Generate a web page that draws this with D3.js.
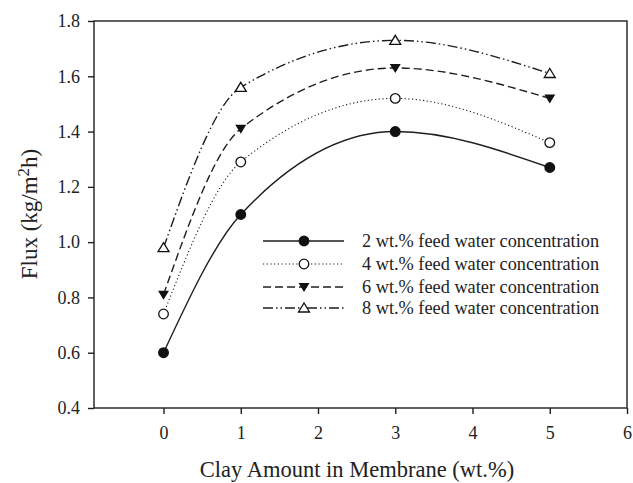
<!DOCTYPE html>
<html>
<head>
<meta charset="utf-8">
<script src="https://cdn.jsdelivr.net/npm/d3@7"></script>
<style>
  body { margin: 0; background: #fff; }
  text { font-family: "Liberation Serif", "Times New Roman", serif; fill: #222; }
</style>
</head>
<body>
<div id="chart"></div>
<script>
// clay amount (wt.%) on x
var clay = [0, 1, 3, 5];

// flux values, one array per feed water concentration
var flux2 = [0.60, 1.10, 1.40, 1.27];
var flux4 = [0.74, 1.29, 1.52, 1.36];
var flux6 = [0.81, 1.41, 1.63, 1.52];
var flux8 = [0.98, 1.56, 1.73, 1.61];

var seriesNames = [
  "2 wt.% feed water concentration",
  "4 wt.% feed water concentration",
  "6 wt.% feed water concentration",
  "8 wt.% feed water concentration"
];

var xTicks = [0, 1, 2, 3, 4, 5, 6];
var yTicks = [0.4, 0.6, 0.8, 1.0, 1.2, 1.4, 1.6, 1.8];

var svgWidth = 633;
var svgHeight = 483;
var margin = { top: 21, right: 6, bottom: 75, left: 94 };
var width = svgWidth - margin.left - margin.right;
var height = svgHeight - margin.top - margin.bottom;

var svg = d3.select("#chart")
  .append("svg")
  .attr("width", svgWidth)
  .attr("height", svgHeight);

var chartGroup = svg.append("g")
  .attr("transform", `translate(${margin.left}, ${margin.top})`);

var xScale = d3.scaleLinear().domain([-0.9, 6]).range([0, width]);
var yScale = d3.scaleLinear().domain([0.4, 1.8]).range([height, 0]);

var ink = "#1e1e1e";

// frame
chartGroup.append("rect")
  .attr("width", width)
  .attr("height", height)
  .attr("fill", "none")
  .attr("stroke", ink)
  .attr("stroke-width", 1.4);

// axes
var xAxis = d3.axisBottom(xScale).tickValues(xTicks).tickSize(6).tickPadding(12)
  .tickFormat(d3.format("d"));
var yAxis = d3.axisLeft(yScale).tickValues(yTicks).tickSize(6).tickPadding(8)
  .tickFormat(d3.format(".1f"));

var gx = chartGroup.append("g")
  .attr("transform", `translate(0, ${height})`)
  .call(xAxis);
var gy = chartGroup.append("g").call(yAxis);

[gx, gy].forEach(function (g) {
  g.select(".domain").remove();
  g.selectAll("line").attr("stroke", ink).attr("stroke-width", 1.4);
  g.selectAll("text")
    .style("font-family", "'Liberation Serif', serif")
    .style("font-size", "18px")
    .attr("fill", ink);
});

var series = [
  { name: seriesNames[0], values: flux2, dash: null, marker: "filledCircle" },
  { name: seriesNames[1], values: flux4, dash: "1.2,2.5", marker: "openCircle" },
  { name: seriesNames[2], values: flux6, dash: "8,4", marker: "filledTri" },
  { name: seriesNames[3], values: flux8, dash: "10,3,1.5,3,1.5,3", marker: "openTri" }
];

var line = d3.line()
  .x(d => xScale(d[0]))
  .y(d => yScale(d[1]))
  .curve(d3.curveMonotoneX);

function drawMarker(g, type, x, y) {
  if (type === "filledCircle" || type === "openCircle") {
    g.append("circle")
      .attr("cx", x).attr("cy", y).attr("r", 4.8)
      .attr("fill", type === "filledCircle" ? "#111" : "#fff")
      .attr("stroke", "#111").attr("stroke-width", 1.3);
  } else if (type === "filledTri") {
    g.append("path")
      .attr("d", `M${x - 5.5},${y - 4} L${x + 5.5},${y - 4} L${x},${y + 5} Z`)
      .attr("fill", "#111");
  } else {
    g.append("path")
      .attr("d", `M${x - 5.5},${y + 4} L${x + 5.5},${y + 4} L${x},${y - 5} Z`)
      .attr("fill", "#fff").attr("stroke", "#111").attr("stroke-width", 1.3);
  }
}

series.forEach(function (s) {
  var pts = clay.map((c, i) => [c, s.values[i]]);
  chartGroup.append("path")
    .datum(pts)
    .attr("d", line)
    .attr("fill", "none")
    .attr("stroke", ink)
    .attr("stroke-width", s.dash === "1.2,2.5" ? 1.1 : 1.4)
    .attr("stroke-dasharray", s.dash);
  var mg = chartGroup.append("g");
  pts.forEach(p => drawMarker(mg, s.marker, xScale(p[0]), yScale(p[1])));
});

// legend
var legendRowsY = [241, 264, 287, 308];
var legend = svg.append("g");
series.forEach(function (s, i) {
  var y = legendRowsY[i];
  legend.append("line")
    .attr("x1", 263).attr("x2", 344)
    .attr("y1", y).attr("y2", y)
    .attr("stroke", ink)
    .attr("stroke-width", s.dash === "1.2,2.5" ? 1.1 : 1.4)
    .attr("stroke-dasharray", s.dash);
  drawMarker(legend, s.marker, 304, y);
  legend.append("text")
    .attr("x", 362)
    .attr("y", y)
    .attr("dy", "0.33em")
    .style("font-size", "18.3px")
    .text(s.name);
});

// axis titles
svg.append("text")
  .attr("transform", "rotate(-90)")
  .attr("x", -214)
  .attr("y", 37)
  .style("text-anchor", "middle")
  .style("font-size", "23px")
  .html("Flux (kg/m<tspan dy='-8' font-size='17px'>2</tspan><tspan dy='8'>h)</tspan>");

svg.append("text")
  .attr("x", 357)
  .attr("y", 477)
  .style("text-anchor", "middle")
  .style("font-size", "22.5px")
  .text("Clay Amount in Membrane (wt.%)");
</script>
</body>
</html>
